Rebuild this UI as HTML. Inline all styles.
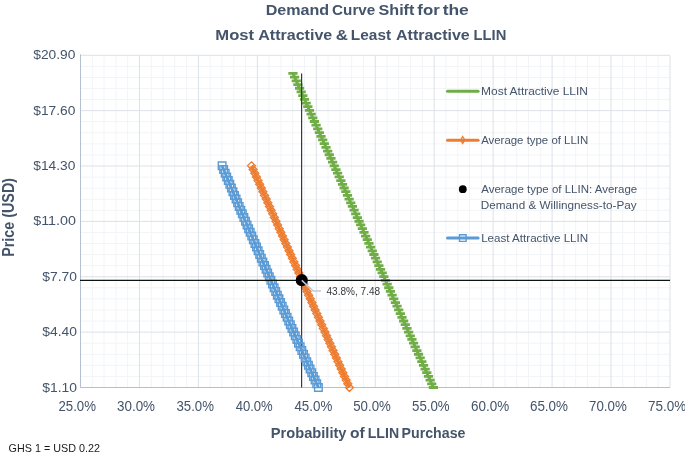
<!DOCTYPE html><html><head><meta charset="utf-8"><title>Demand Curve Shift</title><style>html,body{margin:0;padding:0;background:#fff;width:685px;height:456px;overflow:hidden}svg{display:block}text{font-family:"Liberation Sans", "DejaVu Sans", sans-serif}</style></head><body>
<svg width="685" height="456" viewBox="0 0 685 456">
<rect width="685" height="456" fill="#fff"/>
<path d="M92.29 55.50V387.50M104.08 55.50V387.50M115.87 55.50V387.50M127.66 55.50V387.50M151.24 55.50V387.50M163.03 55.50V387.50M174.82 55.50V387.50M186.61 55.50V387.50M210.19 55.50V387.50M221.98 55.50V387.50M233.77 55.50V387.50M245.56 55.50V387.50M269.14 55.50V387.50M280.93 55.50V387.50M292.72 55.50V387.50M304.51 55.50V387.50M328.09 55.50V387.50M339.88 55.50V387.50M351.67 55.50V387.50M363.46 55.50V387.50M387.04 55.50V387.50M398.83 55.50V387.50M410.62 55.50V387.50M422.41 55.50V387.50M445.99 55.50V387.50M457.78 55.50V387.50M469.57 55.50V387.50M481.36 55.50V387.50M504.94 55.50V387.50M516.73 55.50V387.50M528.52 55.50V387.50M540.31 55.50V387.50M563.89 55.50V387.50M575.68 55.50V387.50M587.47 55.50V387.50M599.26 55.50V387.50M622.84 55.50V387.50M634.63 55.50V387.50M646.42 55.50V387.50M658.21 55.50V387.50M80.50 66.37H670.00M80.50 77.45H670.00M80.50 88.52H670.00M80.50 99.59H670.00M80.50 121.74H670.00M80.50 132.81H670.00M80.50 143.89H670.00M80.50 154.96H670.00M80.50 177.11H670.00M80.50 188.18H670.00M80.50 199.25H670.00M80.50 210.33H670.00M80.50 232.47H670.00M80.50 243.55H670.00M80.50 254.62H670.00M80.50 265.69H670.00M80.50 287.84H670.00M80.50 298.91H670.00M80.50 309.99H670.00M80.50 321.06H670.00M80.50 343.21H670.00M80.50 354.28H670.00M80.50 365.35H670.00M80.50 376.43H670.00" stroke="#F2F4F7" stroke-width="1" fill="none"/>
<path d="M80.50 55.50V387.50M139.45 55.50V387.50M198.40 55.50V387.50M257.35 55.50V387.50M316.30 55.50V387.50M375.25 55.50V387.50M434.20 55.50V387.50M493.15 55.50V387.50M552.10 55.50V387.50M611.05 55.50V387.50M670.00 55.50V387.50M80.50 55.30H670.00M80.50 110.67H670.00M80.50 166.03H670.00M80.50 221.40H670.00M80.50 276.77H670.00M80.50 332.13H670.00M80.50 387.50H670.00" stroke="#DCE1E8" stroke-width="1" fill="none"/>
<path d="M80.50 54.30V387.50H670.00" stroke="#B4BFCF" stroke-width="1" fill="none"/>
<path d="M433.40 387.50L431.75 383.81L430.10 380.11L428.44 376.42L426.79 372.72L425.14 369.03L423.49 365.33L421.83 361.64L420.18 357.94L418.53 354.25L416.88 350.56L415.22 346.86L413.57 343.17L411.92 339.47L410.27 335.78L408.61 332.08L406.96 328.39L405.31 324.69L403.66 321.00L402.01 317.31L400.35 313.61L398.70 309.92L397.05 306.22L395.40 302.53L393.74 298.83L392.09 295.14L390.44 291.44L388.79 287.75L387.13 284.06L385.48 280.36L383.83 276.67L382.18 272.97L380.52 269.28L378.87 265.58L377.22 261.89L375.57 258.19L373.92 254.50L372.26 250.81L370.61 247.11L368.96 243.42L367.31 239.72L365.65 236.03L364.00 232.33L362.35 228.64L360.70 224.94L359.04 221.25L357.39 217.56L355.74 213.86L354.09 210.17L352.43 206.47L350.78 202.78L349.13 199.08L347.48 195.39L345.83 191.69L344.17 188.00L342.52 184.31L340.87 180.61L339.22 176.92L337.56 173.22L335.91 169.53L334.26 165.83L332.61 162.14L330.95 158.44L329.30 154.75L327.65 151.06L326.00 147.36L324.34 143.67L322.69 139.97L321.04 136.28L319.39 132.58L317.74 128.89L316.08 125.19L314.43 121.50L312.78 117.81L311.13 114.11L309.47 110.42L307.82 106.72L306.17 103.03L304.52 99.33L302.86 95.64L301.21 91.94L299.56 88.25L297.91 84.56L296.25 80.86L294.60 77.17L292.95 73.47" stroke="#70AD47" stroke-width="3" fill="none" stroke-linejoin="round"/>
<path d="M428.80 387.50h9.2M427.15 383.81h9.2M425.50 380.11h9.2M423.84 376.42h9.2M422.19 372.72h9.2M420.54 369.03h9.2M418.89 365.33h9.2M417.23 361.64h9.2M415.58 357.94h9.2M413.93 354.25h9.2M412.28 350.56h9.2M410.62 346.86h9.2M408.97 343.17h9.2M407.32 339.47h9.2M405.67 335.78h9.2M404.01 332.08h9.2M402.36 328.39h9.2M400.71 324.69h9.2M399.06 321.00h9.2M397.41 317.31h9.2M395.75 313.61h9.2M394.10 309.92h9.2M392.45 306.22h9.2M390.80 302.53h9.2M389.14 298.83h9.2M387.49 295.14h9.2M385.84 291.44h9.2M384.19 287.75h9.2M382.53 284.06h9.2M380.88 280.36h9.2M379.23 276.67h9.2M377.58 272.97h9.2M375.92 269.28h9.2M374.27 265.58h9.2M372.62 261.89h9.2M370.97 258.19h9.2M369.32 254.50h9.2M367.66 250.81h9.2M366.01 247.11h9.2M364.36 243.42h9.2M362.71 239.72h9.2M361.05 236.03h9.2M359.40 232.33h9.2M357.75 228.64h9.2M356.10 224.94h9.2M354.44 221.25h9.2M352.79 217.56h9.2M351.14 213.86h9.2M349.49 210.17h9.2M347.83 206.47h9.2M346.18 202.78h9.2M344.53 199.08h9.2M342.88 195.39h9.2M341.23 191.69h9.2M339.57 188.00h9.2M337.92 184.31h9.2M336.27 180.61h9.2M334.62 176.92h9.2M332.96 173.22h9.2M331.31 169.53h9.2M329.66 165.83h9.2M328.01 162.14h9.2M326.35 158.44h9.2M324.70 154.75h9.2M323.05 151.06h9.2M321.40 147.36h9.2M319.74 143.67h9.2M318.09 139.97h9.2M316.44 136.28h9.2M314.79 132.58h9.2M313.14 128.89h9.2M311.48 125.19h9.2M309.83 121.50h9.2M308.18 117.81h9.2M306.53 114.11h9.2M304.87 110.42h9.2M303.22 106.72h9.2M301.57 103.03h9.2M299.92 99.33h9.2M298.26 95.64h9.2M296.61 91.94h9.2M294.96 88.25h9.2M293.31 84.56h9.2M291.65 80.86h9.2M290.00 77.17h9.2M288.35 73.47h9.2" stroke="#70AD47" stroke-width="2.8" fill="none"/>
<path d="M349.40 387.50L347.77 383.81L346.14 380.11L344.50 376.42L342.87 372.72L341.24 369.03L339.61 365.33L337.98 361.64L336.35 357.94L334.71 354.25L333.08 350.56L331.45 346.86L329.82 343.17L328.19 339.47L326.56 335.78L324.93 332.08L323.29 328.39L321.66 324.69L320.03 321.00L318.40 317.31L316.77 313.61L315.13 309.92L313.50 306.22L311.87 302.53L310.24 298.83L308.61 295.14L306.98 291.44L305.34 287.75L303.71 284.06L302.08 280.36L300.45 276.67L298.82 272.97L297.19 269.28L295.56 265.58L293.92 261.89L292.29 258.19L290.66 254.50L289.03 250.81L287.40 247.11L285.76 243.42L284.13 239.72L282.50 236.03L280.87 232.33L279.24 228.64L277.61 224.94L275.98 221.25L274.34 217.56L272.71 213.86L271.08 210.17L269.45 206.47L267.82 202.78L266.19 199.08L264.55 195.39L262.92 191.69L261.29 188.00L259.66 184.31L258.03 180.61L256.39 176.92L254.76 173.22L253.13 169.53L251.50 165.83" stroke="#ED7D31" stroke-width="3" fill="none" stroke-linejoin="round"/>
<path d="M349.40 383.50l4 4l-4 4l-4 -4zM347.77 379.81l4 4l-4 4l-4 -4zM346.14 376.11l4 4l-4 4l-4 -4zM344.50 372.42l4 4l-4 4l-4 -4zM342.87 368.72l4 4l-4 4l-4 -4zM341.24 365.03l4 4l-4 4l-4 -4zM339.61 361.33l4 4l-4 4l-4 -4zM337.98 357.64l4 4l-4 4l-4 -4zM336.35 353.94l4 4l-4 4l-4 -4zM334.71 350.25l4 4l-4 4l-4 -4zM333.08 346.56l4 4l-4 4l-4 -4zM331.45 342.86l4 4l-4 4l-4 -4zM329.82 339.17l4 4l-4 4l-4 -4zM328.19 335.47l4 4l-4 4l-4 -4zM326.56 331.78l4 4l-4 4l-4 -4zM324.93 328.08l4 4l-4 4l-4 -4zM323.29 324.39l4 4l-4 4l-4 -4zM321.66 320.69l4 4l-4 4l-4 -4zM320.03 317.00l4 4l-4 4l-4 -4zM318.40 313.31l4 4l-4 4l-4 -4zM316.77 309.61l4 4l-4 4l-4 -4zM315.13 305.92l4 4l-4 4l-4 -4zM313.50 302.22l4 4l-4 4l-4 -4zM311.87 298.53l4 4l-4 4l-4 -4zM310.24 294.83l4 4l-4 4l-4 -4zM308.61 291.14l4 4l-4 4l-4 -4zM306.98 287.44l4 4l-4 4l-4 -4zM305.34 283.75l4 4l-4 4l-4 -4zM303.71 280.06l4 4l-4 4l-4 -4zM302.08 276.36l4 4l-4 4l-4 -4zM300.45 272.67l4 4l-4 4l-4 -4zM298.82 268.97l4 4l-4 4l-4 -4zM297.19 265.28l4 4l-4 4l-4 -4zM295.56 261.58l4 4l-4 4l-4 -4zM293.92 257.89l4 4l-4 4l-4 -4zM292.29 254.19l4 4l-4 4l-4 -4zM290.66 250.50l4 4l-4 4l-4 -4zM289.03 246.81l4 4l-4 4l-4 -4zM287.40 243.11l4 4l-4 4l-4 -4zM285.76 239.42l4 4l-4 4l-4 -4zM284.13 235.72l4 4l-4 4l-4 -4zM282.50 232.03l4 4l-4 4l-4 -4zM280.87 228.33l4 4l-4 4l-4 -4zM279.24 224.64l4 4l-4 4l-4 -4zM277.61 220.94l4 4l-4 4l-4 -4zM275.98 217.25l4 4l-4 4l-4 -4zM274.34 213.56l4 4l-4 4l-4 -4zM272.71 209.86l4 4l-4 4l-4 -4zM271.08 206.17l4 4l-4 4l-4 -4zM269.45 202.47l4 4l-4 4l-4 -4zM267.82 198.78l4 4l-4 4l-4 -4zM266.19 195.08l4 4l-4 4l-4 -4zM264.55 191.39l4 4l-4 4l-4 -4zM262.92 187.69l4 4l-4 4l-4 -4zM261.29 184.00l4 4l-4 4l-4 -4zM259.66 180.31l4 4l-4 4l-4 -4zM258.03 176.61l4 4l-4 4l-4 -4zM256.39 172.92l4 4l-4 4l-4 -4zM254.76 169.22l4 4l-4 4l-4 -4zM253.13 165.53l4 4l-4 4l-4 -4zM251.50 161.83l4 4l-4 4l-4 -4z" stroke="#ED7D31" stroke-width="1.3" fill="none"/>
<path d="M301.60 73.47V387.50" stroke="#3a3a3a" stroke-width="1.2" fill="none"/>
<path d="M318.40 387.50L316.73 383.81L315.07 380.11L313.40 376.42L311.74 372.72L310.08 369.03L308.43 365.33L306.77 361.64L305.12 357.94L303.47 354.25L301.82 350.56L300.17 346.86L298.53 343.17L296.88 339.47L295.24 335.78L293.61 332.08L291.97 328.39L290.34 324.69L288.71 321.00L287.08 317.31L285.45 313.61L283.82 309.92L282.20 306.22L280.58 302.53L278.96 298.83L277.34 295.14L275.73 291.44L274.12 287.75L272.51 284.06L270.90 280.36L269.29 276.67L267.69 272.97L266.09 269.28L264.49 265.58L262.89 261.89L261.29 258.19L259.70 254.50L258.11 250.81L256.52 247.11L254.93 243.42L253.35 239.72L251.77 236.03L250.19 232.33L248.61 228.64L247.03 224.94L245.46 221.25L243.88 217.56L242.31 213.86L240.75 210.17L239.18 206.47L237.62 202.78L236.06 199.08L234.50 195.39L232.94 191.69L231.39 188.00L229.83 184.31L228.28 180.61L226.73 176.92L225.19 173.22L223.64 169.53L222.10 165.83" stroke="#5B9BD5" stroke-width="3" fill="none" stroke-linejoin="round"/>
<path d="M314.60 383.70h7.6v7.6h-7.6zM312.93 380.01h7.6v7.6h-7.6zM311.27 376.31h7.6v7.6h-7.6zM309.60 372.62h7.6v7.6h-7.6zM307.94 368.92h7.6v7.6h-7.6zM306.28 365.23h7.6v7.6h-7.6zM304.63 361.53h7.6v7.6h-7.6zM302.97 357.84h7.6v7.6h-7.6zM301.32 354.14h7.6v7.6h-7.6zM299.67 350.45h7.6v7.6h-7.6zM298.02 346.76h7.6v7.6h-7.6zM296.37 343.06h7.6v7.6h-7.6zM294.73 339.37h7.6v7.6h-7.6zM293.08 335.67h7.6v7.6h-7.6zM291.44 331.98h7.6v7.6h-7.6zM289.81 328.28h7.6v7.6h-7.6zM288.17 324.59h7.6v7.6h-7.6zM286.54 320.89h7.6v7.6h-7.6zM284.91 317.20h7.6v7.6h-7.6zM283.28 313.51h7.6v7.6h-7.6zM281.65 309.81h7.6v7.6h-7.6zM280.02 306.12h7.6v7.6h-7.6zM278.40 302.42h7.6v7.6h-7.6zM276.78 298.73h7.6v7.6h-7.6zM275.16 295.03h7.6v7.6h-7.6zM273.54 291.34h7.6v7.6h-7.6zM271.93 287.64h7.6v7.6h-7.6zM270.32 283.95h7.6v7.6h-7.6zM268.71 280.26h7.6v7.6h-7.6zM267.10 276.56h7.6v7.6h-7.6zM265.49 272.87h7.6v7.6h-7.6zM263.89 269.17h7.6v7.6h-7.6zM262.29 265.48h7.6v7.6h-7.6zM260.69 261.78h7.6v7.6h-7.6zM259.09 258.09h7.6v7.6h-7.6zM257.49 254.39h7.6v7.6h-7.6zM255.90 250.70h7.6v7.6h-7.6zM254.31 247.01h7.6v7.6h-7.6zM252.72 243.31h7.6v7.6h-7.6zM251.13 239.62h7.6v7.6h-7.6zM249.55 235.92h7.6v7.6h-7.6zM247.97 232.23h7.6v7.6h-7.6zM246.39 228.53h7.6v7.6h-7.6zM244.81 224.84h7.6v7.6h-7.6zM243.23 221.14h7.6v7.6h-7.6zM241.66 217.45h7.6v7.6h-7.6zM240.08 213.76h7.6v7.6h-7.6zM238.51 210.06h7.6v7.6h-7.6zM236.95 206.37h7.6v7.6h-7.6zM235.38 202.67h7.6v7.6h-7.6zM233.82 198.98h7.6v7.6h-7.6zM232.26 195.28h7.6v7.6h-7.6zM230.70 191.59h7.6v7.6h-7.6zM229.14 187.89h7.6v7.6h-7.6zM227.59 184.20h7.6v7.6h-7.6zM226.03 180.51h7.6v7.6h-7.6zM224.48 176.81h7.6v7.6h-7.6zM222.93 173.12h7.6v7.6h-7.6zM221.39 169.42h7.6v7.6h-7.6zM219.84 165.73h7.6v7.6h-7.6zM218.30 162.03h7.6v7.6h-7.6z" stroke="#5B9BD5" stroke-width="1.4" fill="none"/>
<path d="M80.00 280.36H670.00" stroke="#0e150e" stroke-width="1.4" fill="none"/>
<circle cx="301.8" cy="280.21" r="6.1" fill="#000"/>
<path d="M301.8 280.36L313.3 291.0H321.0" stroke="#BFC9D6" stroke-width="1.5" fill="none"/>
<path d="M447.5 91.2H478.1" stroke="#70AD47" stroke-width="3" stroke-linecap="round"/>
<path d="M447.5 140.3H478.1" stroke="#ED7D31" stroke-width="3" stroke-linecap="round"/>
<path d="M462.7 136.5l2.1 3.45l-2.1 3.45l-2.1 -3.45z" stroke="#ED7D31" stroke-width="1.3" fill="none"/>
<circle cx="462.8" cy="189.2" r="3.9" fill="#000"/>
<path d="M447.5 238.1H478.1" stroke="#5B9BD5" stroke-width="3" stroke-linecap="round"/>
<path d="M459.5 234.8h6.6v6.6h-6.6z" stroke="#5B9BD5" stroke-width="1.4" fill="none"/>
<text x="265.72" y="14.80" font-size="15.50" font-weight="bold" fill="#44546A" textLength="63.47" lengthAdjust="spacingAndGlyphs">Demand</text>
<text x="332.07" y="14.80" font-size="15.50" font-weight="bold" fill="#44546A" textLength="43.22" lengthAdjust="spacingAndGlyphs">Curve</text>
<text x="378.52" y="14.80" font-size="15.50" font-weight="bold" fill="#44546A" textLength="35.86" lengthAdjust="spacingAndGlyphs">Shift</text>
<text x="417.35" y="14.80" font-size="15.50" font-weight="bold" fill="#44546A" textLength="22.36" lengthAdjust="spacingAndGlyphs">for</text>
<text x="442.65" y="14.80" font-size="15.50" font-weight="bold" fill="#44546A" textLength="26.18" lengthAdjust="spacingAndGlyphs">the</text>
<text x="215.31" y="40.40" font-size="15.50" font-weight="bold" fill="#44546A" textLength="38.79" lengthAdjust="spacingAndGlyphs">Most</text>
<text x="258.21" y="40.40" font-size="15.50" font-weight="bold" fill="#44546A" textLength="74.08" lengthAdjust="spacingAndGlyphs">Attractive</text>
<text x="335.68" y="40.40" font-size="15.50" font-weight="bold" fill="#44546A" textLength="12.23" lengthAdjust="spacingAndGlyphs">&amp;</text>
<text x="350.86" y="40.40" font-size="15.50" font-weight="bold" fill="#44546A" textLength="40.24" lengthAdjust="spacingAndGlyphs">Least</text>
<text x="396.05" y="40.40" font-size="15.50" font-weight="bold" fill="#44546A" textLength="73.66" lengthAdjust="spacingAndGlyphs">Attractive</text>
<text x="473.51" y="40.40" font-size="15.50" font-weight="bold" fill="#44546A" textLength="32.83" lengthAdjust="spacingAndGlyphs">LLIN</text>
<text x="270.77" y="438.30" font-size="15.00" font-weight="bold" fill="#44546A" textLength="75.72" lengthAdjust="spacingAndGlyphs">Probability</text>
<text x="350.09" y="438.30" font-size="15.00" font-weight="bold" fill="#44546A" textLength="14.76" lengthAdjust="spacingAndGlyphs">of</text>
<text x="367.77" y="438.30" font-size="15.00" font-weight="bold" fill="#44546A" textLength="31.30" lengthAdjust="spacingAndGlyphs">LLIN</text>
<text x="401.57" y="438.30" font-size="15.00" font-weight="bold" fill="#44546A" textLength="63.93" lengthAdjust="spacingAndGlyphs">Purchase</text>
<text x="33.29" y="59.10" font-size="13.60" fill="#44546A" textLength="42.07" lengthAdjust="spacingAndGlyphs">$20.90</text>
<text x="33.29" y="114.52" font-size="13.60" fill="#44546A" textLength="42.07" lengthAdjust="spacingAndGlyphs">$17.60</text>
<text x="33.29" y="169.93" font-size="13.60" fill="#44546A" textLength="42.07" lengthAdjust="spacingAndGlyphs">$14.30</text>
<text x="33.26" y="225.35" font-size="13.60" fill="#44546A" textLength="42.65" lengthAdjust="spacingAndGlyphs">$11.00</text>
<text x="42.30" y="280.77" font-size="13.60" fill="#44546A" textLength="34.73" lengthAdjust="spacingAndGlyphs">$7.70</text>
<text x="42.30" y="336.18" font-size="13.60" fill="#44546A" textLength="34.73" lengthAdjust="spacingAndGlyphs">$4.40</text>
<text x="42.30" y="391.60" font-size="13.60" fill="#44546A" textLength="34.73" lengthAdjust="spacingAndGlyphs">$1.10</text>
<text x="58.43" y="410.50" font-size="13.80" fill="#44546A" textLength="37.53" lengthAdjust="spacingAndGlyphs">25.0%</text>
<text x="117.01" y="410.50" font-size="13.80" fill="#44546A" textLength="38.01" lengthAdjust="spacingAndGlyphs">30.0%</text>
<text x="176.46" y="410.50" font-size="13.80" fill="#44546A" textLength="37.46" lengthAdjust="spacingAndGlyphs">35.0%</text>
<text x="235.65" y="410.50" font-size="13.80" fill="#44546A" textLength="37.10" lengthAdjust="spacingAndGlyphs">40.0%</text>
<text x="294.40" y="410.50" font-size="13.80" fill="#44546A" textLength="37.87" lengthAdjust="spacingAndGlyphs">45.0%</text>
<text x="353.26" y="410.50" font-size="13.80" fill="#44546A" textLength="37.54" lengthAdjust="spacingAndGlyphs">50.0%</text>
<text x="412.00" y="410.50" font-size="13.80" fill="#44546A" textLength="37.65" lengthAdjust="spacingAndGlyphs">55.0%</text>
<text x="470.99" y="410.50" font-size="13.80" fill="#44546A" textLength="38.12" lengthAdjust="spacingAndGlyphs">60.0%</text>
<text x="529.91" y="410.50" font-size="13.80" fill="#44546A" textLength="38.12" lengthAdjust="spacingAndGlyphs">65.0%</text>
<text x="589.06" y="410.50" font-size="13.80" fill="#44546A" textLength="37.72" lengthAdjust="spacingAndGlyphs">70.0%</text>
<text x="647.92" y="410.50" font-size="13.80" fill="#44546A" textLength="38.26" lengthAdjust="spacingAndGlyphs">75.0%</text>
<text x="481.09" y="94.50" font-size="11.20" fill="#44546A" textLength="106.85" lengthAdjust="spacingAndGlyphs">Most Attractive LLIN</text>
<text x="481.16" y="143.70" font-size="11.20" fill="#44546A" textLength="107.05" lengthAdjust="spacingAndGlyphs">Average type of LLIN</text>
<text x="481.29" y="192.50" font-size="11.20" fill="#44546A" textLength="155.98" lengthAdjust="spacingAndGlyphs">Average type of LLIN: Average</text>
<text x="480.83" y="208.60" font-size="11.20" fill="#44546A" textLength="155.85" lengthAdjust="spacingAndGlyphs">Demand &amp; Willingness-to-Pay</text>
<text x="481.15" y="242.00" font-size="11.20" fill="#44546A" textLength="107.04" lengthAdjust="spacingAndGlyphs">Least Attractive LLIN</text>
<text x="326.45" y="294.60" font-size="10.30" fill="#383838" textLength="53.70" lengthAdjust="spacingAndGlyphs">43.8%, 7.48</text>
<text x="8.64" y="451.90" font-size="10.60" fill="#1a1a1a" textLength="91.31" lengthAdjust="spacingAndGlyphs">GHS 1 = USD 0.22</text>
<text transform="translate(13.7 256.76) rotate(-90)" font-size="15.6" font-weight="bold" fill="#44546A" textLength="78.78" lengthAdjust="spacingAndGlyphs">Price (USD)</text>
</svg></body></html>
